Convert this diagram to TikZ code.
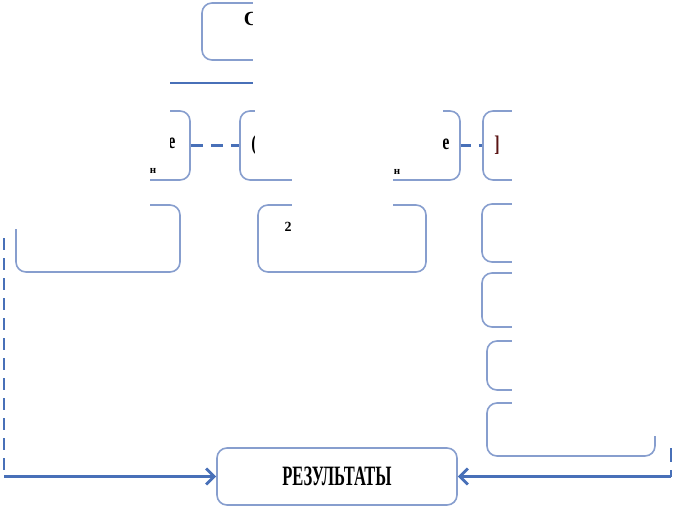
\documentclass[tikz,border=0pt]{standalone}
\usepackage{fontspec}
\setmainfont{Liberation Serif}
\usepackage{graphicx}
\usetikzlibrary{arrows.meta}
\definecolor{boxcol}{RGB}{135,158,206}
\definecolor{linecol}{RGB}{72,112,184}
\definecolor{fragred}{RGB}{90,20,20}
\tikzset{
  boxnode/.style={draw=boxcol, line width=1.6pt, rounded corners=10pt, inner sep=0pt},
  conn/.style={draw=linecol, line width=2.8pt},
  dconn/.style={conn, dash pattern=on 12pt off 8pt},
  tipped/.style={-{Straight Barb[length=8pt,width=16pt]}},
  maskbox/.style={fill=white, draw=none},
  frag/.style={inner sep=0pt, font=\fontsize{16}{16}\selectfont\bfseries},
  smallfrag/.style={inner sep=0pt, font=\fontsize{11}{11}\selectfont\bfseries}
}
\begin{document}
\begin{tikzpicture}[x=1pt, y=-1pt]
\useasboundingbox (0,0) rectangle (675,508);
% boxes
\node[boxnode, minimum width=268pt, minimum height=57pt] (T) at (336,31.5) {};
\node[boxnode, minimum width=170pt, minimum height=69pt] (A) at (105,145.5) {};
\node[boxnode, minimum width=220pt, minimum height=69pt] (B) at (350,145.5) {};
\node[boxnode, minimum width=172pt, minimum height=69pt] (C) at (569,145.5) {};
\node[boxnode, minimum width=164pt, minimum height=67pt] (D) at (98,238.5) {};
\node[boxnode, minimum width=168pt, minimum height=67pt] (E) at (342,238.5) {};
\node[boxnode, minimum width=173pt, minimum height=58pt] (F) at (568.5,233) {};
\node[boxnode, minimum width=173pt, minimum height=54pt] (G) at (568.5,300) {};
\node[boxnode, minimum width=168pt, minimum height=49pt] (H) at (571,365.5) {};
\node[boxnode, minimum width=168pt, minimum height=53pt] (I) at (571,429.5) {};
\node[boxnode, minimum width=240pt, minimum height=57pt] (R) at (337,476.5)
  {\scalebox{1}[1.7]{\fontsize{16.5}{16.5}\selectfont\bfseries РЕЗУЛЬТАТЫ}};
% connectors
\coordinate (barL) at (170,83);
\coordinate (barR) at (600,83);
\draw[conn] (barL) -- (barR);
\draw[dconn] (A.east) -- (B.west);
\draw[dconn, dash pattern=on 10pt off 8pt] (B.east) -- (C.west);
\coordinate (lt) at (4,238);
\coordinate (lc) at (4,476.5);
\coordinate (rt) at (671,448);
\coordinate (rc) at (671,476.5);
\draw[dconn] (lt) -- (lc);
\draw[conn, tipped] (lc) -- (R.west);
\draw[conn, dash pattern=on 14pt off 8pt] (rt) -- (rc);
\draw[conn, tipped] (rc) -- (R.east);
% visible text fragments
\node[inner sep=0pt, font=\fontsize{20}{20}\selectfont\bfseries] (tC) at (251,19) {С};
\node[frag] (aE) at (172,143) {\scalebox{1}[1.4]{е}};
\node[smallfrag] (aN) at (153,171) {н};
\node[frag] (bP) at (254,145) {\scalebox{1}[1.4]{(}};
\node[frag] (bE) at (446,144) {\scalebox{1}[1.4]{е}};
\node[smallfrag] (bN) at (397,172) {н};
\node[frag, text=fragred] (cB) at (497,145) {\scalebox{1}[1.4]{]}};
\node[frag, font=\fontsize{14}{14}\selectfont\bfseries] (e2) at (288,227) {2};
% masked regions
\fill[maskbox] (253,0) rectangle (675,100);
\fill[maskbox] (255,100) rectangle (443,165);
\fill[maskbox] (292,165) rectangle (393,243);
\fill[maskbox] (512,100) rectangle (675,436);
\fill[maskbox] (0,100) rectangle (170,160);
\fill[maskbox] (0,160) rectangle (150,229);
\end{tikzpicture}
\end{document}
